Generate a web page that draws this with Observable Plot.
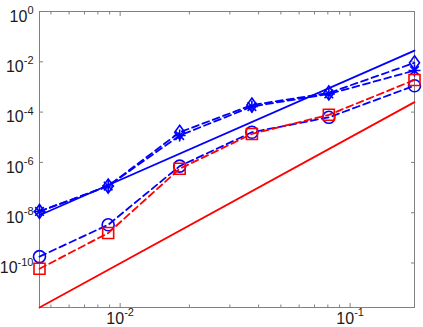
<!DOCTYPE html>
<html><head><meta charset="utf-8">
<script src="https://cdn.jsdelivr.net/npm/d3@7"></script>
<script src="https://cdn.jsdelivr.net/npm/@observablehq/plot@0.6"></script>
<style>body{margin:0;background:#fff;} svg{display:block}</style>
</head><body><div id="chart"></div>
<script>
// x values (step sizes)
const xValues = [0.00446, 0.00887, 0.01815, 0.0374, 0.0808, 0.1905];
// dashed series
const diamondY  = [1.12e-8, 1.15e-7, 1.58e-5, 1.9e-4, 5.75e-4, 9.1e-3];
const asteriskY = [1.12e-8, 1.15e-7, 1.17e-5, 1.66e-4, 5.25e-4, 4.5e-3];
const circleY   = [1.8e-10, 3.3e-9, 7.1e-7, 1.58e-5, 6.2e-5, 1.12e-3];
const squareY   = [5.9e-11, 1.55e-9, 5.6e-7, 1.35e-5, 7.8e-5, 1.9e-3];
// reference slope lines
const refX = [0.00446, 0.1905];
const blueRefY = [7.9e-9, 2.8e-2];
const redRefY = [1.7e-12, 2.5e-4];
// ticks
const xMajorTicks = [0.01, 0.1];
const xMinorTicks = [0.005, 0.006, 0.007, 0.008, 0.009, 0.02, 0.03, 0.04, 0.05, 0.06, 0.07, 0.08, 0.09];
const yTicks = [1, 1e-2, 1e-4, 1e-6, 1e-8, 1e-10];

const BLUE = "#0000ff", RED = "#ff0000", AX = "#808080";
const toRows = ys => xValues.map((x, i) => ({x, y: ys[i]}));
const refRows = ys => refX.map((x, i) => ({x, y: ys[i]}));

const diamondSym = {draw(c){ c.moveTo(0,-7); c.lineTo(5,0); c.lineTo(0,7); c.lineTo(-5,0); c.closePath(); }};
const squareSym = {draw(c){ c.moveTo(-5.5,-5.5); c.lineTo(5.5,-5.5); c.lineTo(5.5,5.5); c.lineTo(-5.5,5.5); c.closePath(); }};
const asteriskSym = {draw(c){
  const s = 6, d = 4.3;
  c.moveTo(0,-s); c.lineTo(0,s); c.moveTo(-s,0); c.lineTo(s,0);
  c.moveTo(-d,-d); c.lineTo(d,d); c.moveTo(-d,d); c.lineTo(d,-d);
}};

const expFmt = d => String(Math.round(Math.log10(d)));
const blank = () => "";
const dash = "7,4";

const chart = Plot.plot({
  width: 423, height: 327,
  marginLeft: 39, marginRight: 9, marginTop: 11, marginBottom: 20,
  style: {fontFamily: "'Liberation Sans', Arial, sans-serif", fontSize: "16px", color: "#1a1a1a", background: "#fff"},
  x: {type: "log", domain: [0.00446, 0.1905]},
  y: {type: "log", domain: [1.7e-12, 1]},
  marks: [
    Plot.frame({stroke: AX}),
    // tick labels
    Plot.axisX({ticks: xMajorTicks, anchor: "bottom", tickSize: 0, tickPadding: 5, tickFormat: expFmt, label: null, fontSize: 16}),
    Plot.axisY({ticks: yTicks, anchor: "left", tickSize: 0, tickPadding: 6, tickFormat: expFmt, label: null, fontSize: 16, dy: 5}),
    // inward tick marks
    Plot.axisX({ticks: xMajorTicks, anchor: "bottom", tickSize: -4, tickFormat: blank, label: null, stroke: AX}),
    Plot.axisX({ticks: xMajorTicks, anchor: "top", tickSize: -4, tickFormat: blank, label: null, stroke: AX}),
    Plot.axisX({ticks: xMinorTicks, anchor: "bottom", tickSize: -2.5, tickFormat: blank, label: null, stroke: AX}),
    Plot.axisX({ticks: xMinorTicks, anchor: "top", tickSize: -2.5, tickFormat: blank, label: null, stroke: AX}),
    Plot.axisY({ticks: yTicks, anchor: "left", tickSize: -4, tickFormat: blank, label: null, stroke: AX}),
    Plot.axisY({ticks: yTicks, anchor: "right", tickSize: -4, tickFormat: blank, label: null, stroke: AX}),
    // reference lines
    Plot.line(refRows(blueRefY), {x: "x", y: "y", stroke: BLUE, strokeWidth: 1.8}),
    Plot.line(refRows(redRefY), {x: "x", y: "y", stroke: RED, strokeWidth: 1.8}),
    // dashed series
    Plot.line(toRows(diamondY), {x: "x", y: "y", stroke: BLUE, strokeWidth: 1.8, strokeDasharray: dash}),
    Plot.dot(toRows(diamondY), {x: "x", y: "y", stroke: BLUE, strokeWidth: 1.6, symbol: diamondSym, fill: "none"}),
    Plot.line(toRows(asteriskY), {x: "x", y: "y", stroke: BLUE, strokeWidth: 1.8, strokeDasharray: dash}),
    Plot.dot(toRows(asteriskY), {x: "x", y: "y", stroke: BLUE, strokeWidth: 1.6, symbol: asteriskSym, fill: "none"}),
    Plot.line(toRows(circleY), {x: "x", y: "y", stroke: BLUE, strokeWidth: 1.8, strokeDasharray: dash}),
    Plot.dot(toRows(circleY), {x: "x", y: "y", stroke: BLUE, strokeWidth: 1.6, symbol: "circle", r: 6, fill: "none"}),
    Plot.line(toRows(squareY), {x: "x", y: "y", stroke: RED, strokeWidth: 1.8, strokeDasharray: dash}),
    Plot.dot(toRows(squareY), {x: "x", y: "y", stroke: RED, strokeWidth: 1.6, symbol: squareSym, fill: "none"})
  ]
});

// render exponents as superscripts: "10" + raised exponent
const ns = "http://www.w3.org/2000/svg";
chart.querySelectorAll('g[aria-label$="tick label"] text').forEach(t => {
  const e = t.textContent;
  if (!e) return;
  t.textContent = "";
  const a = document.createElementNS(ns, "tspan");
  a.textContent = "10";
  const b = document.createElementNS(ns, "tspan");
  b.textContent = e;
  b.setAttribute("font-size", "11");
  b.setAttribute("dy", "-7.5");
  t.append(a, b);
});
document.getElementById("chart").append(chart);
</script>
</body></html>
